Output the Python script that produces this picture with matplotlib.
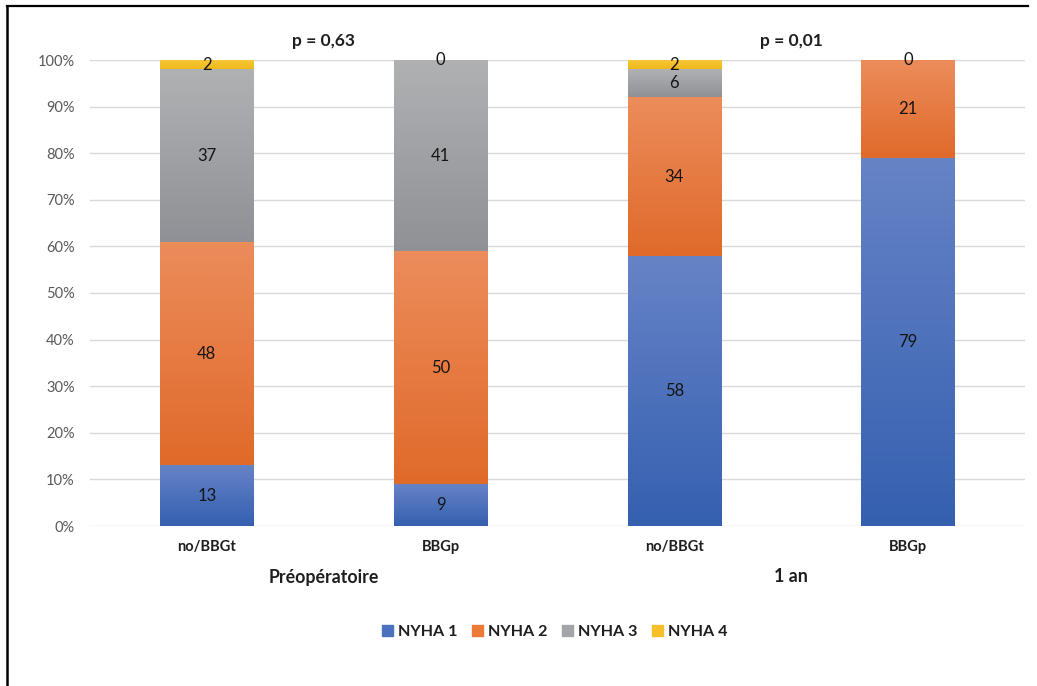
import numpy as np
import matplotlib
matplotlib.use("Agg")
import matplotlib.pyplot as plt
from matplotlib.lines import Line2D
from matplotlib.colors import LinearSegmentedColormap
from matplotlib import transforms

plt.rcParams['font.family'] = ['Lato', 'DejaVu Sans']

categories = ["no/BBGt", "BBGp", "no/BBGt", "BBGp"]
groups = ["Préopératoire", "1 an"]
p_values = ["p = 0,63", "p = 0,01"]
series_names = ["NYHA 1", "NYHA 2", "NYHA 3", "NYHA 4"]
nyha1 = [13, 9, 58, 79]
nyha2 = [48, 50, 34, 21]
nyha3 = [37, 41, 6, 0]
nyha4 = [2, 0, 2, 0]
yticks = [0, 10, 20, 30, 40, 50, 60, 70, 80, 90, 100]

series = [nyha1, nyha2, nyha3, nyha4]
mid_colors = ["#4a72bf", "#ea7a35", "#a3a4a7", "#f5c02a"]
top_colors = ["#6683c6", "#ec8c5b", "#b0b1b3", "#f8c938"]
bot_colors = ["#3560b0", "#e06a2a", "#909196", "#efb81e"]

fig = plt.figure(figsize=(10.37, 6.86), dpi=100)
ax = fig.add_axes([90/1037, 1-526/686, (1025-90)/1037, (526-60)/686])

x = np.arange(len(categories))
bottom = np.zeros(len(categories))
width = 0.4
containers = []
for vals, name, mc, tc, bc in zip(series, series_names, mid_colors, top_colors, bot_colors):
    vals = np.array(vals, dtype=float)
    cont = ax.bar(x, vals, width, bottom=bottom, color=mc, label=name, zorder=2, linewidth=0)
    cmap = LinearSegmentedColormap.from_list("g", [bc, tc])
    grad = np.linspace(0, 1, 64).reshape(-1, 1)
    for patch in cont.patches:
        if patch.get_height() <= 0:
            continue
        x0, y0 = patch.get_x(), patch.get_y()
        w, h = patch.get_width(), patch.get_height()
        ax.imshow(grad, cmap=cmap, extent=[x0, x0 + w, y0, y0 + h], aspect='auto',
                  origin='lower', zorder=3, interpolation='bilinear')
    containers.append((cont, vals, bottom.copy()))
    bottom = bottom + vals

# data labels
done_zero = set()
for cont, vals, bot in containers:
    for i, v in enumerate(vals):
        if v == 0:
            if i in done_zero:
                continue
            done_zero.add(i)
        ax.text(x[i], bot[i] + v / 2, f"{int(v)}", ha='center', va='center',
                fontsize=12, color='#151515', zorder=5)

ax.set_xlim(-0.5, len(categories) - 0.5)
ax.set_ylim(0, 100)
ax.set_yticks(yticks)
ax.set_yticklabels([f"{t}%" for t in yticks], fontsize=10.5, color='#595959')
ax.set_xticks(x)
ax.set_xticklabels(categories, fontsize=10.5, fontweight='bold', color='#1e1e1e')
ax.tick_params(axis='both', length=0)
ax.tick_params(axis='x', pad=10)
ax.tick_params(axis='y', pad=11)
ax.grid(axis='y', color='#d9d9d9', linewidth=1, zorder=0)
ax.set_axisbelow(True)
for s in ax.spines.values():
    s.set_visible(False)

# group labels and p-values
trans_lbl = transforms.blended_transform_factory(ax.transData, fig.transFigure)
for gi, (g, p) in enumerate(zip(groups, p_values)):
    cx = (x[2 * gi] + x[2 * gi + 1]) / 2
    ax.text(cx, 1 - 577/686, g, transform=trans_lbl, ha='center', va='center',
            fontsize=12.8, fontweight='bold', color='#1e1e1e')
    ax.text(cx, 1 - 41/686, p, transform=trans_lbl, ha='center', va='center',
            fontsize=12.5, fontweight='bold', color='#1e1e1e')

handles = [plt.Rectangle((0, 0), 1, 1, color=c) for c in mid_colors]
leg = fig.legend(handles, series_names, loc='center', bbox_to_anchor=(555/1037, 1 - 632/686),
                 ncol=4, frameon=False, handlelength=0.65, handleheight=0.65,
                 columnspacing=0.9, handletextpad=0.35,
                 prop={'weight': 'bold', 'size': 11.6})
for t in leg.get_texts():
    t.set_color('#1e1e1e')

# border (top and left)
fig.add_artist(Line2D([7/1037, 1028/1037], [1 - 6/686, 1 - 6/686], color='black', linewidth=1.6,
                      transform=fig.transFigure))
fig.add_artist(Line2D([7/1037, 7/1037], [0, 1 - 6/686], color='black', linewidth=1.8,
                      transform=fig.transFigure))

fig.savefig("out.png", dpi=100)
